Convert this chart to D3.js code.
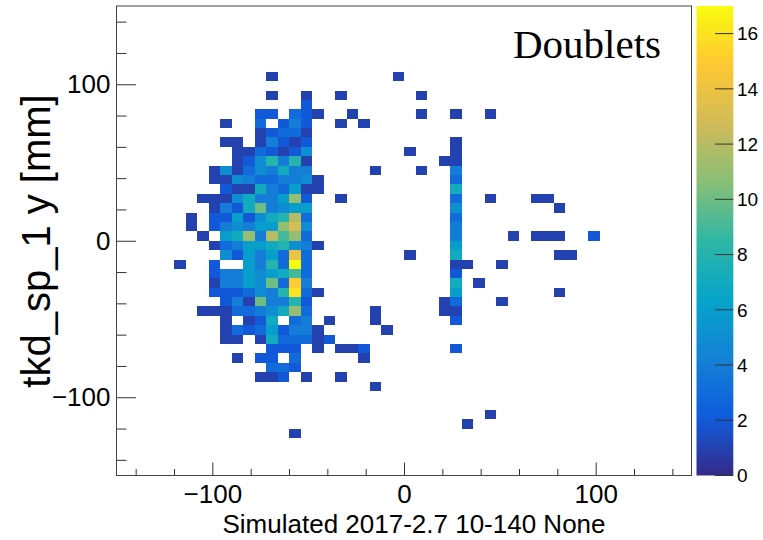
<!DOCTYPE html>
<html>
<head>
<meta charset="utf-8">
<script src="https://cdn.jsdelivr.net/npm/d3@7"></script>
<style>
  body { margin: 0; background: #fff; }
  svg { display: block; }
</style>
</head>
<body>
<svg id="chart" width="763" height="540"></svg>
<script>
// 2D histogram of tkd_sp_1 hits, 6 mm bins. Only the filled bins are listed,
// one entry per row: y centre of the row, x centres of its bins, and counts.
const rowY = [105, 93, 87, 81, 75, 69, 63, 57, 51, 45, 39, 33, 27, 21, 15, 9, 3,
  -3, -9, -15, -21, -27, -33, -39, -45, -51, -57, -63, -69, -75, -81, -87, -93,
  -111, -117, -123];

const rowX = [
  [-69, -3],
  [-69, -51, -33, 9],
  [-51],
  [-75, -69, -57, -51, -45, -27, 9, 27, 45],
  [-93, -75, -63, -57, -51, -33, -21],
  [-75, -69, -63, -57, -51],
  [-93, -87, -75, -69, -63, -57, -51, 27],
  [-87, -81, -75, -69, -63, -57, -51, 3, 27],
  [-87, -81, -75, -69, -63, -57, -51, 21, 27],
  [-99, -93, -87, -81, -75, -69, -63, -57, -51, -15, 9, 27],
  [-99, -93, -87, -81, -75, -69, -63, -57, -51, -45, 27],
  [-93, -87, -81, -75, -69, -63, -57, -51, -45, 27],
  [-105, -99, -93, -87, -81, -75, -69, -63, -57, -51, -33, 27, 45, 69, 75],
  [-99, -93, -87, -81, -75, -69, -63, -57, -51, 27, 81],
  [-111, -99, -93, -87, -81, -75, -69, -63, -57, -51, 27],
  [-111, -99, -93, -87, -81, -75, -69, -63, -57, -51, 27],
  [-105, -93, -87, -81, -75, -69, -63, -57, -51, 27, 57, 69, 75, 81, 99],
  [-99, -93, -87, -81, -75, -69, -63, -57, -51, -45, 27],
  [-93, -87, -81, -75, -69, -63, -57, -51, 3, 27, 81, 87],
  [-117, -99, -81, -75, -69, -63, -57, -51, 27, 33, 51],
  [-99, -93, -87, -81, -75, -69, -63, -57, -51, 27],
  [-99, -93, -87, -81, -75, -69, -63, -57, -51, 27, 39],
  [-99, -93, -87, -81, -75, -69, -63, -57, -51, -45, 27, 81],
  [-93, -87, -81, -75, -69, -63, -57, -51, 21, 27, 51],
  [-105, -99, -93, -87, -81, -75, -69, -63, -57, -51, -15, 21, 27],
  [-93, -81, -75, -69, -57, -51, -39, -15, 27],
  [-93, -87, -81, -75, -69, -63, -57, -51, -45, -9],
  [-93, -87, -75, -69, -63, -57, -51, -45, -39],
  [-69, -63, -57, -45, -33, -27, -21, 27],
  [-87, -75, -69, -57, -21],
  [-69, -63, -57],
  [-75, -69, -63, -51, -33],
  [-15],
  [45],
  [33],
  [-57]
];

const rowN = [
  [1, 1],
  [1, 1, 1, 1],
  [2],
  [2, 2, 3, 2, 1, 1, 1, 1, 1],
  [1, 3, 2, 4, 2, 1, 1],
  [1, 2, 3, 3, 1],
  [1, 1, 1, 4, 2, 1, 2, 1],
  [1, 1, 3, 2, 1, 2, 5, 1, 1],
  [1, 2, 5, 8, 4, 8, 1, 1, 1],
  [1, 5, 1, 3, 5, 4, 7, 4, 4, 1, 1, 4],
  [1, 1, 5, 4, 3, 3, 4, 4, 5, 1, 3],
  [2, 1, 1, 7, 4, 3, 6, 1, 1, 7],
  [1, 1, 1, 5, 7, 4, 4, 6, 11, 2, 1, 3, 1, 1, 1],
  [1, 4, 2, 7, 10, 4, 5, 6, 6, 5, 1],
  [1, 2, 2, 6, 2, 5, 7, 8, 12, 3, 3],
  [1, 2, 4, 5, 4, 6, 6, 11, 13, 5, 4],
  [1, 6, 7, 11, 4, 12, 9, 11, 3, 4, 1, 1, 1, 1, 2],
  [1, 3, 4, 6, 6, 7, 8, 5, 4, 1, 6],
  [5, 2, 6, 4, 6, 3, 14, 3, 1, 7, 1, 1],
  [1, 2, 6, 4, 8, 3, 17, 3, 1, 1, 1],
  [2, 4, 4, 6, 5, 6, 7, 9, 3, 2],
  [1, 4, 4, 6, 5, 10, 3, 15, 4, 7, 1],
  [2, 2, 2, 3, 5, 4, 8, 16, 3, 1, 6, 1],
  [2, 4, 1, 10, 4, 4, 8, 2, 1, 3, 1],
  [1, 1, 1, 3, 3, 4, 5, 7, 11, 3, 1, 1, 1],
  [1, 1, 2, 7, 3, 4, 1, 1, 2],
  [1, 3, 2, 3, 6, 2, 4, 4, 1, 1],
  [1, 1, 1, 7, 3, 3, 3, 1, 2],
  [2, 2, 2, 1, 1, 1, 2, 2],
  [1, 2, 2, 3, 1],
  [3, 3, 2],
  [1, 1, 2, 1, 1],
  [1],
  [1],
  [1],
  [1]
];

const BIN = 6;
const Z_MAX = 17;
const majorTicks = [-100, 0, 100];
const minorTicks = [-140, -120, -80, -60, -40, -20, 20, 40, 60, 80, 120, 140];
const zTicks = [0, 2, 4, 6, 8, 10, 12, 14, 16];

// ROOT kBird palette
const birdStops = [0, 0.125, 0.25, 0.375, 0.5, 0.625, 0.75, 0.875, 1];
const birdColors = ["#352a87", "#0f5cdd", "#1481d6", "#06a4ca", "#2eb7a4",
  "#87bf77", "#d1bb59", "#fec832", "#f9fb0e"];

const FONT = "'Liberation Sans', Arial, Helvetica, sans-serif";

let svg = d3.select("#chart");

let x = d3.scaleLinear().domain([-150, 150]).range([116.5, 691.5]);
let y = d3.scaleLinear().domain([-150, 150]).range([475.5, 6]);
let z = d3.scaleLinear().domain([0, Z_MAX]).range([475.5, 6]);
let colour = d3.scaleLinear()
  .domain(birdStops.map(function(s) { return s * Z_MAX; }))
  .range(birdColors)
  .interpolate(d3.interpolateRgb);

// flatten rows into bins
let bins = [];
rowY.forEach(function(yc, i) {
  rowX[i].forEach(function(xc, j) {
    bins.push({x: xc, y: yc, n: rowN[i][j]});
  });
});

svg.append("g")
  .selectAll("rect")
  .data(bins)
  .enter().append("rect")
    .attr("x", function(d) { return x(d.x - BIN / 2); })
    .attr("y", function(d) { return y(d.y + BIN / 2); })
    .attr("width", function(d) { return x(d.x + BIN / 2) - x(d.x - BIN / 2); })
    .attr("height", function(d) { return y(d.y - BIN / 2) - y(d.y + BIN / 2); })
    .attr("fill", function(d) { return colour(d.n); })
    .attr("shape-rendering", "crispEdges");

// axes
function styleAxis(g, size) {
  g.select(".domain").remove();
  g.selectAll("line").attr("stroke", "#333");
  g.selectAll("text")
    .attr("font-family", FONT)
    .attr("font-size", size)
    .attr("fill", "#000");
}

svg.append("g")
  .attr("transform", "translate(0,475.5)")
  .call(d3.axisBottom(x).tickValues(minorTicks).tickSize(-6.5).tickFormat(""))
  .call(styleAxis, 26);
svg.append("g")
  .attr("transform", "translate(0,475.5)")
  .call(d3.axisBottom(x).tickValues(majorTicks).tickSize(-13).tickPadding(9)
    .tickFormat(d3.format("d")))
  .call(styleAxis, 26);

svg.append("g")
  .attr("transform", "translate(116.5,0)")
  .call(d3.axisLeft(y).tickValues(minorTicks).tickSize(-10).tickFormat(""))
  .call(styleAxis, 26);
svg.append("g")
  .attr("transform", "translate(116.5,0)")
  .call(d3.axisLeft(y).tickValues(majorTicks).tickSize(-19.5).tickPadding(6)
    .tickFormat(d3.format("d")))
  .call(styleAxis, 26);

// frame
svg.append("rect")
  .attr("x", 116.5).attr("y", 6)
  .attr("width", 575).attr("height", 469.5)
  .attr("fill", "none")
  .attr("stroke", "#444")
  .attr("stroke-width", 1);

// colour bar
let grad = svg.append("defs").append("linearGradient")
  .attr("id", "bird")
  .attr("x1", 0).attr("y1", 1).attr("x2", 0).attr("y2", 0);
grad.selectAll("stop")
  .data(birdStops)
  .enter().append("stop")
    .attr("offset", function(d) { return d; })
    .attr("stop-color", function(d, i) { return birdColors[i]; });

svg.append("rect")
  .attr("x", 696.5).attr("y", 6)
  .attr("width", 36.8).attr("height", 469.5)
  .attr("fill", "url(#bird)");

let zAxis = svg.append("g");
zAxis.selectAll("line")
  .data(zTicks)
  .enter().append("line")
    .attr("x1", 715).attr("x2", 733.3)
    .attr("y1", function(d) { return z(d); })
    .attr("y2", function(d) { return z(d); })
    .attr("stroke", "#333");
zAxis.selectAll("text")
  .data(zTicks)
  .enter().append("text")
    .attr("x", 737)
    .attr("y", function(d) { return z(d); })
    .attr("dy", "0.36em")
    .attr("font-family", FONT)
    .attr("font-size", 19)
    .text(function(d) { return d; });

// titles
svg.append("text")
  .attr("x", 414).attr("y", 533)
  .attr("text-anchor", "middle")
  .attr("font-family", FONT)
  .attr("font-size", 26)
  .text("Simulated 2017-2.7 10-140 None");

svg.append("text")
  .attr("transform", "translate(50,241) rotate(-90)")
  .attr("text-anchor", "middle")
  .attr("font-family", FONT)
  .attr("font-size", 40)
  .text("tkd_sp_1 y [mm]");

svg.append("text")
  .attr("x", 513).attr("y", 58)
  .attr("font-family", "'Liberation Serif', 'Times New Roman', serif")
  .attr("font-size", 41)
  .text("Doublets");
</script>
</body>
</html>
